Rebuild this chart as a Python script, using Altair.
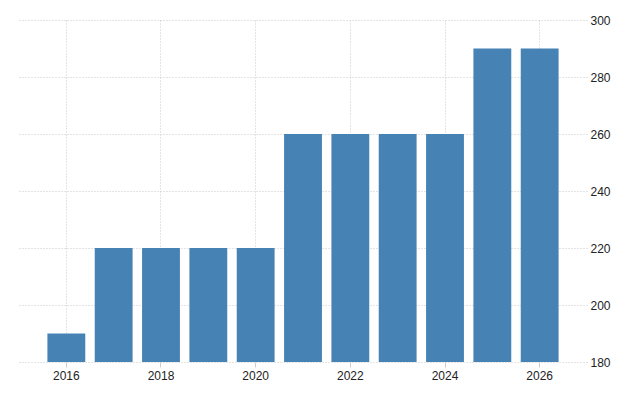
import altair as alt
import pandas as pd

years = ["2016", "2017", "2018", "2019", "2020", "2021", "2022", "2023", "2024", "2025", "2026"]
values = [190, 220, 220, 220, 220, 260, 260, 260, 260, 290, 290]
x_labels = ["2016", "2018", "2020", "2022", "2024", "2026"]
y_ticks = [180, 200, 220, 240, 260, 280, 300]

df = pd.DataFrame({"year": years, "value": values})

chart = alt.Chart(df).mark_bar(color="#4682B4").encode(
    x=alt.X(
        "year:O",
        sort=years,
        scale=alt.Scale(paddingInner=0.2, paddingOuter=0.6),
        axis=alt.Axis(
            values=x_labels,
            title=None,
            labelAngle=0,
            bandPosition=0.5,
            grid=True,
            gridDash=[1, 2],
            gridColor="#c8c8c8",
            domain=False,
            tickColor="#cccccc",
            tickSize=5,
            labelPadding=3,
            labelFont="Liberation Sans",
            labelFontSize=12,
            labelColor="#222222",
        ),
    ),
    y=alt.Y(
        "value:Q",
        scale=alt.Scale(domain=[180, 300], zero=False, nice=False),
        axis=alt.Axis(
            orient="right",
            values=y_ticks,
            title=None,
            grid=True,
            gridDash=[1, 2],
            gridColor="#c8c8c8",
            domain=False,
            ticks=False,
            labelPadding=3,
            labelFont="Liberation Sans",
            labelFontSize=12,
            labelColor="#222222",
        ),
    ),
    y2=alt.datum(180),
).properties(
    width=568,
    height=342,
    autosize=alt.AutoSizeParams(type="none"),
    padding={"left": 19, "top": 20, "right": 53, "bottom": 38},
).configure_view(stroke=None)

chart.save("out.html", embed_options={"renderer": "svg", "actions": False})
